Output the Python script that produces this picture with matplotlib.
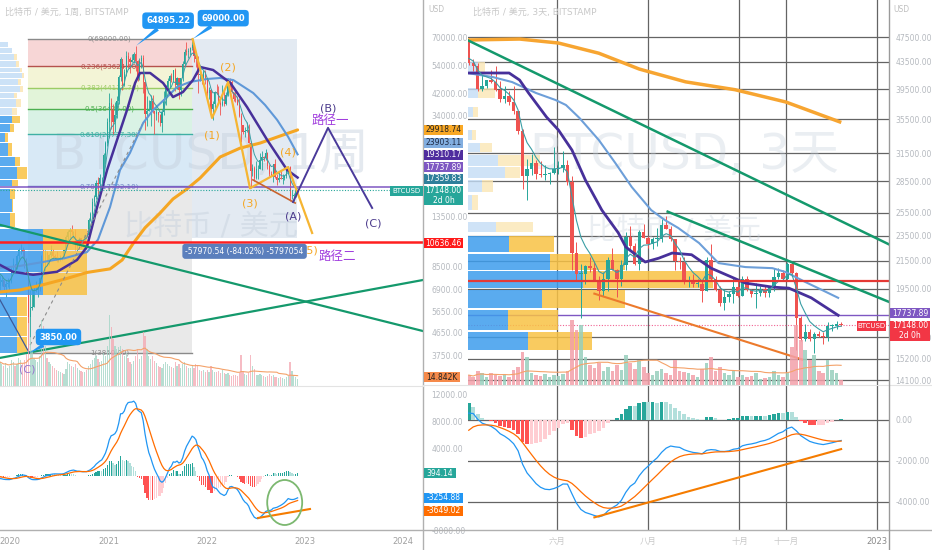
import numpy as np
import pandas as pd
import matplotlib
matplotlib.use("Agg")
import matplotlib.pyplot as plt
import matplotlib.dates as mdates
from matplotlib.patches import Rectangle, Ellipse
from matplotlib.lines import Line2D
from matplotlib.ticker import NullLocator

plt.rcParams['font.family'] = ['DejaVu Sans', 'Noto Sans CJK SC']
plt.rcParams['axes.unicode_minus'] = False

# =========================== DATA ===========================
# ---- Left chart: BTCUSD weekly (BITSTAMP), first visible week 2019-11-25
lw_start = '2019-11-25'
lw_pre_close = [8000, 8900, 10800, 10800, 11500, 10200, 10600, 9500, 10900, 11300, 10300, 10100,
                10300, 10400, 10300, 10000, 8000, 7900, 8300, 8200, 9200, 8800, 8800, 8100, 7100]
lw_close = [7420, 7520, 7080, 7260, 7340, 7400,
            8180, 8700, 8350, 9350, 9900, 9920, 9700, 8540, 8040, 5380, 5830, 5880, 6780, 6900, 7130, 7700,
            8900, 8720, 9680, 8900, 9450, 9760, 9360, 9300, 9000, 9080, 9230, 9180, 9920, 11200, 11700, 11900,
            11660, 11700, 10300, 10320, 11050, 10770, 10680, 11390, 11360, 13100, 13800, 15480, 16080, 18400,
            18190, 19150, 19250, 23850, 26500, 32200,
            38200, 36000, 32300, 34300, 39200, 48700, 57500, 45200, 50900, 59000, 57500, 55800, 57000, 60000,
            56200, 49100, 56600, 58200, 46400, 34700, 35700, 35800, 39000, 35500, 34700, 35300, 34300, 31800,
            35400, 39900, 44400, 47100, 49100, 47200, 51800, 45200, 48300, 43200, 48200, 54900, 61500, 61300,
            61300, 63300, 65500, 59000, 57200, 49400, 50100, 46700, 50800, 47300,
            41900, 43100, 36300, 37900, 42400, 42100, 38400, 37700, 38800, 37800, 41300, 46800, 46400, 42200,
            39700, 39500, 37600, 34100, 31300, 29400, 29500, 29900, 26600, 20600, 21000, 19300, 20800, 20800,
            22600, 23300, 23200, 24300, 21500, 20000, 19800, 21800, 19400, 18800, 19300, 19100, 19200, 19600,
            20600, 21300, 16300, 16300, 16500, 17100, 17148]
lw_high = [7850, 7750, 7550, 7520, 7700, 7500,
           8460, 9190, 8700, 9570, 10150, 10500, 10200, 9970, 9190, 8170, 6900, 6980, 7200, 7470, 7300, 7770,
           9470, 10000, 9930, 9850, 9600, 10400, 9980, 9570, 9800, 9300, 9450, 9300, 10000, 11400, 11900, 12100,
           12480, 11800, 12050, 10600, 11150, 11100, 10950, 11500, 11720, 13350, 14100, 15960, 16500, 18800,
           19400, 19900, 19400, 24300, 27000, 33300,
           41950, 40100, 37850, 38500, 40950, 49700, 58300, 57500, 52600, 61800, 61000, 58500, 60000, 61300,
           64895, 57000, 57900, 59500, 59500, 46100, 40900, 39500, 41300, 41300, 35500, 36600, 35100, 34600,
           35400, 42600, 45300, 48200, 49400, 50500, 51900, 52900, 48800, 48100, 48400, 56500, 62900, 67000,
           63700, 64300, 69000, 66300, 59400, 59100, 51900, 49500, 51900, 52100,
           47500, 44400, 43500, 38900, 42600, 45800, 44700, 39800, 45400, 42600, 42300, 48000, 48200, 47200,
           41600, 42900, 40800, 40000, 35000, 31300, 30600, 32300, 31700, 26900, 21900, 21500, 22400, 21600,
           24200, 24600, 23600, 25200, 24400, 21800, 20600, 21800, 22800, 19900, 20300, 20500, 19900, 19700,
           21000, 21500, 21500, 17200, 16800, 17400, 17400]
lw_low = [6850, 7100, 6800, 6430, 7050, 6850,
          7330, 8050, 8250, 8350, 9150, 9600, 9300, 8400, 8000, 3850, 4450, 5700, 5850, 6750, 6470, 6820,
          7650, 8600, 8200, 8650, 8640, 9300, 9230, 9150, 8900, 8900, 9000, 9050, 9160, 9900, 10700, 11100,
          11350, 11100, 9900, 9850, 10200, 10150, 10370, 10550, 11150, 11200, 12900, 13300, 14800, 15800,
          16300, 17600, 17550, 19000, 21800, 25900,
          27700, 30300, 28800, 29300, 33400, 37900, 47000, 43000, 45000, 49300, 53300, 50400, 55800, 55500,
          51500, 47000, 47200, 53000, 42100, 30000, 31000, 35600, 31000, 34800, 28800, 32700, 32100, 31100,
          29300, 34400, 37600, 43700, 43900, 46300, 46600, 42900, 43400, 39600, 40800, 47100, 53700, 59700,
          58000, 59500, 62300, 55600, 53500, 42000, 46800, 45500, 45500, 45700,
          40700, 39700, 34000, 32900, 36300, 41700, 38000, 34300, 37300, 37200, 37600, 40900, 44200, 42100,
          38900, 38600, 37700, 33700, 26700, 28700, 28000, 29300, 26600, 17600, 19600, 18700, 19000, 19000,
          20800, 20700, 22400, 22700, 20800, 19600, 19500, 18600, 19300, 18100, 18500, 19100, 18200, 18900,
          19200, 20000, 15600, 15800, 15500, 16100, 16850]
lw_volume_k = [36, 33, 30, 34, 27, 30,
               39, 36, 30, 33, 42, 39, 33, 39, 48, 95, 72, 54, 42, 39, 36, 45, 99, 90, 60, 42, 36, 33, 30, 27,
               24, 22, 21, 20, 18, 25, 36, 33, 30, 28, 33, 27, 24, 22, 21, 21, 24, 30, 33, 39, 42, 45, 40, 36,
               38, 50, 45, 60,
               106, 88, 70, 60, 55, 58, 60, 55, 45, 50, 42, 36, 33, 38, 45, 55, 40, 45, 81, 75, 55, 45, 40, 45,
               38, 35, 30, 28, 27, 33, 36, 33, 30, 28, 27, 36, 30, 33, 27, 33, 36, 30, 27, 27, 30, 27, 33, 30,
               24, 22, 24, 21,
               24, 21, 30, 24, 21, 21, 22, 20, 24, 20, 18, 20, 17, 15, 17, 16, 15, 20, 46, 22, 18, 17, 20, 47,
               30, 25, 17, 16, 18, 17, 15, 14, 15, 18, 15, 16, 14, 13, 12, 14, 12, 11, 13, 15, 36, 22, 16,
               13, 10]

# left moving averages
l_ma_orange_dates = ['2019-11-25', '2020-02-07', '2020-04-29', '2020-07-24', '2020-10-13', '2021-01-07',
                     '2021-02-21', '2021-04-02', '2021-05-17', '2021-07-12', '2021-08-29', '2021-10-20',
                     '2021-12-08', '2022-02-20', '2022-05-05', '2022-07-19', '2022-10-01', '2022-12-05']
l_ma_orange = [6745, 6870, 7190, 7600, 8070, 8340, 9050, 10500, 12170, 13940, 15860, 17390, 19240, 23320,
               25300, 26520, 28290, 29919]
l_ma_blue_dates = ['2019-11-25', '2020-02-07', '2020-04-29', '2020-07-24', '2020-10-13', '2020-11-23',
                   '2021-01-07', '2021-02-13', '2021-03-22', '2021-05-10', '2021-06-16', '2021-08-07',
                   '2021-09-13', '2021-10-31', '2022-01-03', '2022-02-20', '2022-04-10', '2022-06-23',
                   '2022-08-06', '2022-09-20', '2022-10-31', '2022-12-05']
l_ma_blue = [8410, 8570, 8870, 9210, 9730, 10900, 14730, 20700, 24210, 31890, 35930, 40470, 44390, 46490,
             47780, 48220, 47300, 42010, 37630, 32790, 28040, 23903]
l_ma_indigo_dates = ['2019-11-25', '2020-01-12', '2020-03-27', '2020-06-24', '2020-09-06', '2020-10-13',
                     '2020-11-20', '2020-12-27', '2021-02-02', '2021-03-11', '2021-04-10', '2021-04-28',
                     '2021-06-05', '2021-07-23', '2021-08-29', '2021-10-05', '2021-11-11', '2021-12-08',
                     '2022-01-25', '2022-03-30', '2022-05-31', '2022-08-14', '2022-10-27', '2022-12-05']
l_ma_indigo = [8650, 8120, 7900, 8120, 9050, 10200, 14730, 20700, 27280, 35930, 46060, 50490, 50490, 46060,
               40470, 42390, 47300, 53340, 51890, 46060, 36920, 27280, 20700, 19310]

# fibonacci retracement drawn on the left chart
fib_levels = [0, 0.236, 0.382, 0.5, 0.618, 0.786, 1]
fib_high, fib_low = 69000.0, 3850.0
fib_dates = ['2020-03-09', '2021-11-08']
range_dates = ['2021-11-08', '2022-12-03']
range_change = -57970.54
l_red_level = 10636.46
l_purple_level = 17737.89
last_price = 17148.00

# drawings on the left chart (anchor dates, prices)
l_green1_dates, l_green1 = ['2019-11-25', '2024-03-15'], [12500, 4710]
l_green2_dates, l_green2 = ['2019-11-25', '2024-03-15'], [3680, 7530]
l_wave_dates = ['2021-11-10', '2022-01-21', '2022-03-22', '2022-06-11', '2022-10-31', '2023-01-28']
l_wave = [69000, 33400, 46500, 17500, 21260, 11600]
l_wave_labels = ['(1)', '(2)', '(3)', '(4)', '(5)']
l_wave_label_dates = ['2022-01-21', '2022-03-22', '2022-06-11', '2022-10-31', '2023-01-20']
l_wave_label_prices = [28550, 53340, 15280, 24420, 9920]
l_wedge_dates, l_wedge = ['2022-06-22', '2022-11-26'], [18900, 15280]
l_abc_dates = ['2022-11-18', '2023-03-28', '2023-09-08']
l_abc = [15420, 30500, 14600]
l_abc_label_dates = ['2022-11-18', '2023-03-28', '2023-09-12']
l_abc_label_prices = [13440, 36260, 12600]
l_dash_dates, l_dash = ['2020-03-16', '2021-05-06'], [4140, 31400]
l_thin_dates, l_thin = ['2019-11-25', '2020-03-13'], [6270, 3850]
l_macd_trend_dates, l_macd_trend = ['2022-07-11', '2023-01-20'], [-6220, -4890]

# volume profile rows of the left chart: (price low, price high, blue share, total share, pale)
l_profile = [(64110, 67120, .019, .019, 1), (60660, 63530, .028, .028, 1), (56880, 60110, .033, .040, 1),
             (53340, 56370, .038, .045, 1), (50950, 52850, .047, .052, 1), (48220, 50490, .052, .057, 1),
             (45220, 47780, .043, .050, 1), (42390, 44800, .047, .055, 1), (40140, 42010, .033, .040, 1),
             (36920, 39750, .038, .050, 1), (34330, 36600, .028, .040, 1), (31890, 34000, .028, .047, 0),
             (29350, 31590, .024, .033, 0), (26780, 29080, .012, .020, 0), (23540, 26540, .019, .028, 0),
             (21470, 23320, .035, .047, 0), (19060, 21280, .040, .064, 0), (17860, 18870, .028, .043, 0),
             (15860, 17390, .024, .035, 0), (14070, 15910, .028, .030, 0), (12250, 13940, .024, .035, 0),
             (9920, 12040, .102, .206, 0), (8110, 9830, .102, .206, 0), (6570, 8020, .102, .206, 0),
             (5410, 6450, .040, .064, 0), (4510, 5350, .040, .064, 0), (3850, 4460, .040, .064, 0)]

# ---- Right chart: BTCUSD 3-day candles, first visible candle 2022-04-03
r_start = '2022-04-03'
r_pre_close = [49400, 50500, 47500, 46700, 47600, 46700, 48900, 50800, 47500, 46300, 46400, 43100, 41900,
               43900, 43100, 41800, 36300, 36700, 37200, 38200, 37000, 41600, 43900, 42400, 42500, 40500,
               38400, 37300, 39100, 44400, 39100, 38000, 39400, 37800, 41100, 42200, 42400, 44500, 47100, 45500]
r_open = [46600, 43300, 42800, 39500, 39900, 40800, 40500, 39400, 38100, 38600, 37700, 36500, 34000, 29000,
          29800, 30400, 29200, 29100, 29200, 29400, 29800, 29900, 30200, 28400, 22100, 20500, 20500, 21100,
          21000, 20100, 19300, 20200, 21600, 20800, 20200, 21200, 23400, 22700, 21300, 23800, 23300, 22800,
          23200, 23200, 24400, 24100, 23200, 21500, 21400, 20000, 20000, 19800, 19800, 19300, 21600, 20200,
          19400, 18500, 18900, 19100, 19600, 19000, 20200, 19400, 19100, 19200, 19500, 19200, 19600, 20300,
          20600, 20200, 21300, 20600, 17600, 16300, 16700, 16300, 16600, 16500, 16400, 17100, 17100, 17200]
r_high = [47400, 43900, 43400, 41500, 40800, 42200, 42900, 40700, 40000, 39200, 40000, 36600, 34300, 30800,
          31400, 30700, 30600, 30200, 29500, 32200, 30600, 31700, 30700, 29000, 23000, 21300, 21200, 21800,
          21500, 20400, 20700, 21800, 22500, 20900, 21600, 23800, 24300, 22900, 24000, 24500, 23500, 23400,
          24200, 24900, 25200, 24300, 23200, 21800, 21800, 20400, 20500, 20200, 20100, 21800, 22800, 20400,
          19700, 19500, 19300, 20300, 20100, 20400, 20400, 19500, 19900, 19700, 19700, 19700, 21000, 21000,
          20800, 21400, 21500, 20700, 17700, 17200, 16900, 16700, 16800, 16700, 17300, 17200, 17400, 17300]
r_low = [43000, 42100, 39200, 39300, 39600, 40300, 39200, 37700, 37600, 37400, 36200, 33700, 27700, 26700,
         29100, 28700, 28900, 28600, 28200, 29300, 29300, 29500, 28100, 20800, 20100, 17600, 19800, 20700,
         20100, 18700, 19000, 19300, 20900, 18900, 19700, 20800, 22400, 21200, 20800, 23300, 22500, 22400,
         22700, 23000, 24100, 23100, 20800, 20900, 19800, 19600, 19600, 19600, 18600, 19300, 20000, 19300,
         18300, 18100, 18600, 18500, 18900, 19000, 19300, 18900, 18200, 19000, 18900, 18900, 19300, 20200,
         20100, 20000, 20400, 15700, 16200, 16200, 16200, 15500, 16400, 16000, 16200, 16800, 16900, 17050]
r_close = [43300, 42800, 39500, 39900, 40800, 40500, 39400, 38100, 38600, 37700, 36500, 34000, 29000, 29800,
           30400, 29200, 29100, 29200, 29400, 29800, 29900, 30200, 28400, 22100, 20500, 20500, 21100, 21000,
           20100, 19300, 20200, 21600, 20800, 20200, 21200, 23400, 22700, 21300, 23800, 23300, 22800, 23200,
           23200, 24400, 24100, 23200, 21500, 21400, 20000, 20000, 19800, 19800, 19300, 21600, 20200, 19400,
           18500, 18900, 19100, 19600, 19000, 20200, 19400, 19100, 19200, 19500, 19200, 19600, 20300, 20600,
           20200, 21300, 20600, 17600, 16300, 16700, 16300, 16600, 16500, 16400, 17100, 17100, 17200, 17148]
r_volume_k = [3.3, 2.7, 4.7, 4.0, 2.7, 4.0, 3.3, 3.0, 3.7, 2.7, 5.0, 6.0, 11.0, 9.3, 4.0, 3.3, 3.0, 3.7,
              2.7, 3.3, 3.0, 3.7, 4.7, 21.7, 18.3, 20.0, 9.3, 6.7, 5.7, 7.3, 4.7, 6.0, 4.7, 6.7, 5.0, 10.0,
              7.3, 5.3, 8.3, 6.0, 4.0, 3.3, 4.7, 5.3, 4.0, 3.3, 8.3, 4.7, 4.3, 4.0, 3.3, 2.7, 5.3, 7.3, 9.3,
              4.7, 6.0, 4.0, 3.3, 4.7, 2.7, 3.3, 2.7, 3.0, 4.0, 2.0, 2.3, 2.7, 4.7, 3.3, 2.7, 4.0, 12.7, 20.0,
              15.0, 11.7, 8.3, 10.0, 4.7, 4.0, 8.3, 5.0, 4.0, 1.7]

r_ma_orange_dates = ['2022-04-02', '2022-05-07', '2022-06-02', '2022-06-29', '2022-07-26', '2022-08-26',
                     '2022-09-28', '2022-11-01', '2022-12-07']
r_ma_orange = [47000, 47160, 46500, 44850, 42410, 40530, 39420, 37740, 35180]
r_ma_blue_dates = ['2022-04-02', '2022-04-19', '2022-05-02', '2022-05-18', '2022-05-31', '2022-06-07',
                   '2022-06-16', '2022-06-29', '2022-07-10', '2022-07-21', '2022-08-03', '2022-08-12',
                   '2022-08-21', '2022-09-04', '2022-09-17', '2022-10-05', '2022-10-23', '2022-11-01',
                   '2022-11-14', '2022-11-25', '2022-12-06']
r_ma_blue = [41820, 41230, 40500, 38960, 38010, 37340, 35670, 32980, 30410, 27930, 25740, 24860, 24170,
             22910, 21340, 21040, 20960, 20670, 19960, 19410, 18870]
r_ma_indigo_dates = ['2022-04-02', '2022-04-30', '2022-05-07', '2022-05-13', '2022-05-25', '2022-06-02',
                     '2022-06-11', '2022-06-20', '2022-07-01', '2022-07-12', '2022-07-17', '2022-07-30',
                     '2022-08-08', '2022-08-17', '2022-08-30', '2022-09-12', '2022-10-05', '2022-10-23',
                     '2022-11-03', '2022-11-18', '2022-12-06']
r_ma_indigo = [41820, 41820, 40790, 38960, 35780, 34170, 31840, 28630, 25740, 23750, 22590, 21420, 21710,
               22110, 21980, 20960, 19880, 19600, 19530, 18870, 17740]
r_green1_dates, r_green1 = ['2022-04-02', '2023-01-09'], [47000, 22800]
r_green2_dates, r_green2 = ['2022-08-14', '2023-01-09'], [25600, 18600]
r_orange_dates, r_orange = ['2022-06-26', '2022-11-12'], [19150, 15170]
r_red_level = 20000
r_macd_trend_dates, r_macd_trend = ['2022-06-26', '2022-12-08'], [-4750, -1420]
r_profile = [(41970, 43480, .024, .040, 1), (38280, 39650, .024, .064, 1), (35790, 37070, .012, .024, 1),
             (32980, 34170, .010, .020, 1), (31620, 32640, .0285, .057, 1), (30100, 31280, .071, .171, 1),
             (28840, 29990, .088, .124, 1), (27440, 28630, .033, .059, 1), (25740, 27150, .010, .024, 1),
             (23820, 24680, .0665, .154, 1), (22190, 23480, .097, .204, 0), (20820, 22040, .195, .373, 0),
             (19530, 20750, .273, .582, 0), (18200, 19390, .176, .373, 0), (16840, 18070, .095, .214, 0),
             (15680, 16720, .1425, .295, 0)]

# axis ticks
l_price_ticks = [70000, 54000, 42000, 34000, 13500, 8500, 6900, 5650, 4650, 3750]
l_macd_ticks = [12000, 8000, 4000, -8000]
l_year_ticks = ['2020-01-01', '2021-01-01', '2022-01-01', '2023-01-01', '2024-01-01']
l_year_labels = ['2020', '2021', '2022', '2023', '2024']
r_price_ticks = [47500, 43500, 39500, 35500, 31500, 28500, 25500, 23500, 21500, 19500, 16400, 15200, 14100]
r_macd_ticks = [0, -2000, -4000]
r_month_ticks = ['2022-06-01', '2022-08-01', '2022-10-01', '2022-11-01', '2023-01-01']
r_month_labels = ['六月', '八月', '十月', '十一月', '2023']

# =========================== HELPERS ===========================
W, H = 932, 550
fig = plt.figure(figsize=(W / 100, H / 100), dpi=100)
fig.patch.set_facecolor('white')


def add_ax(x0, y0, x1, y1):
    ax = fig.add_axes([x0 / W, 1 - y1 / H, (x1 - x0) / W, (y1 - y0) / H])
    for s in ax.spines.values():
        s.set_visible(False)
    ax.set_facecolor('none')
    return ax


def D(seq):
    return mdates.date2num(pd.to_datetime(seq))


def candles(ax, x, o, h, l, c, width, z=2, lw=0.7):
    o, h, l, c = (np.asarray(a, dtype=float) for a in (o, h, l, c))
    h = np.maximum(h, np.maximum(o, c))
    l = np.minimum(l, np.minimum(o, c))
    col = np.where(c >= o, '#26a69a', '#ef5350')
    ax.vlines(x, l, h, colors=col, lw=lw, zorder=z)
    lo = np.minimum(o, c)
    hi = np.maximum(np.maximum(o, c), lo * 1.004)
    ax.bar(x, hi - lo, width=width, bottom=lo, color=col, zorder=z, linewidth=0)
    return c >= o


def macd(closes):
    s = pd.Series(closes, dtype=float)
    m = s.ewm(span=12, adjust=False).mean() - s.ewm(span=26, adjust=False).mean()
    sg = m.ewm(span=9, adjust=False).mean()
    return m.values, sg.values, (m - sg).values


def hist_colors(hv):
    out = []
    for i, v in enumerate(hv):
        p = hv[i - 1] if i > 0 else v
        if v >= 0:
            out.append('#26a69a' if v >= p else '#b2dfdb')
        else:
            out.append('#ff5252' if v < p else '#ffcdd2')
    return out


def fline(x0, y0, x1, y1, color, lw=1.0, z=20):
    fig.add_artist(Line2D([x0 / W, x1 / W], [1 - y0 / H, 1 - y1 / H], transform=fig.transFigure,
                          color=color, lw=lw, zorder=z))


def fbox(x0, x1, yc, h, fc, text, tc='white', fs=5.5, text2=None):
    fig.add_artist(Rectangle((x0 / W, 1 - (yc + h / 2) / H), (x1 - x0) / W, h / H,
                             transform=fig.transFigure, fc=fc, ec='none', zorder=30))
    if text2 is None:
        fig.text((x0 + x1) / 2 / W, 1 - yc / H, text, ha='center', va='center', color=tc, fontsize=fs, zorder=31)
    else:
        fig.text((x0 + x1) / 2 / W, 1 - (yc - h / 4) / H, text, ha='center', va='center', color=tc,
                 fontsize=fs, zorder=31)
        fig.text((x0 + x1) / 2 / W, 1 - (yc + h / 4) / H, text2, ha='center', va='center', color=tc,
                 fontsize=fs, zorder=31)


def profile(ax, rows, z, a_sat, a_pale):
    tr = ax.get_yaxis_transform()
    for lo, hi, b, t, pale in rows:
        cb = '#c4ddf6' if pale else '#3d9ded'
        cy = '#fbe6b4' if pale else '#f8c244'
        a = a_pale if pale else a_sat
        ax.add_patch(Rectangle((0, lo), b, hi - lo, transform=tr, fc=cb, ec='none', alpha=a, zorder=z))
        if t > b:
            ax.add_patch(Rectangle((b, lo), t - b, hi - lo, transform=tr, fc=cy, ec='none', alpha=a, zorder=z))


def hide_twin(axt, top):
    for s in axt.spines.values():
        s.set_visible(False)
    axt.set_ylim(0, top)
    axt.set_yticks([])
    axt.tick_params(right=False, labelright=False, left=False, labelleft=False)


# =========================== LEFT CHART ===========================
axLP = add_ax(0, 0, 423, 386)
axLP.set_yscale('log')
lx0, lx1 = D(['2019-11-25'])[0], D(['2024-03-15'])[0]
axLP.set_xlim(lx0, lx1)
axLP.set_ylim(2842, 98750)
axLV = axLP.twinx()
hide_twin(axLV, 579)

fx = D(fib_dates)
fp = [fib_high - r * (fib_high - fib_low) for r in fib_levels]
fib_fill = ['#f7d6d6', '#f3f4d6', '#e2f4d9', '#d9f2e5', '#d8e9f6', '#e9e9e9']
fib_line = ['#8a8a8a', '#b5524d', '#9ccc65', '#4caf50', '#3fb0a4', '#6f86c6', '#8a8a8a']
for i in range(len(fib_levels) - 1):
    axLP.fill_between(fx, fp[i + 1], fp[i], color=fib_fill[i], lw=0, zorder=0.5)
for r, p, c in zip(fib_levels, fp, fib_line):
    axLP.plot(fx, [p, p], color=c, lw=1.0, zorder=1)
    axLP.text(fx.mean() - 2, p, f"{r:g}({p:.2f})", ha='center', va='center', fontsize=5, color=c, zorder=1.2)
rx = D(range_dates)
range_low = fib_high + range_change
axLP.fill_between(rx, range_low, fib_high, color='#e3eaf2', lw=0, zorder=0.5)

axLP.text(0.497, 0.598, 'BTCUSD, 1周', transform=axLP.transAxes, ha='center', va='center', fontsize=36,
          color='#c5d0dc', alpha=0.45, zorder=0.8)
axLP.text(0.50, 0.41, '比特币 / 美元', transform=axLP.transAxes, ha='center', va='center', fontsize=21,
          color='#c5d0dc', alpha=0.45, zorder=0.8)

n_w = min(len(lw_close), len(lw_high), len(lw_low), len(lw_volume_k))
wx = D(pd.date_range(lw_start, periods=n_w, freq='7D'))
l_open = ([lw_pre_close[-1]] + lw_close[:-1])[:n_w]
l_up = candles(axLP, wx, l_open, lw_high[:n_w], lw_low[:n_w], lw_close[:n_w], width=4.2, lw=0.6)
profile(axLP, l_profile, 2.5, 0.85, 0.85)

axLP.plot(D(l_ma_orange_dates), l_ma_orange, color='#f5a623', lw=2.2, zorder=3, solid_capstyle='round')
axLP.plot(D(l_ma_blue_dates), l_ma_blue, color='#5f98d8', lw=1.5, zorder=3)
axLP.plot(D(l_ma_indigo_dates), l_ma_indigo, color='#47309a', lw=1.8, zorder=3)
l_all_close = pd.Series(lw_pre_close + lw_close[:n_w], dtype=float)
l_ema_short = l_all_close.ewm(span=6, adjust=False).mean().values[len(lw_pre_close):]
axLP.plot(wx, l_ema_short, color='#3a9ea5', lw=0.7, zorder=3)

axLP.axhline(l_red_level, color='#ff1f1f', lw=1.8, zorder=4)
axLP.axhline(l_purple_level, color='#7e57c2', lw=1.1, zorder=4)
axLP.axhline(last_price, color='#26a69a', lw=0.8, ls=(0, (1, 1.5)), zorder=4)
axLP.plot(D(l_green1_dates), l_green1, color='#14996c', lw=1.6, zorder=4)
axLP.plot(D(l_green2_dates), l_green2, color='#14996c', lw=1.6, zorder=4)
axLP.plot(D(l_thin_dates), l_thin, color='#3d5a99', lw=0.9, zorder=4)
axLP.plot(D(l_dash_dates), l_dash, color='#8c8c8c', lw=0.8, ls=(0, (3, 3)), zorder=4)
axLP.plot(D(l_wave_dates), l_wave, color='#f6b532', lw=1.6, zorder=4)
axLP.plot(D(l_wedge_dates), l_wedge, color='#c8642e', lw=1.2, zorder=4)
axLP.plot(D(l_abc_dates), l_abc, color='#4a3a9a', lw=1.4, zorder=4)

vcol = np.where(l_up, '#9fd4c4', '#f4a6b0')
axLV.bar(wx, lw_volume_k[:n_w], width=4.5, color=vcol, alpha=0.75, linewidth=0, zorder=1)
axLV.plot(wx, pd.Series(lw_volume_k[:n_w], dtype=float).rolling(20, min_periods=1).mean().values,
          color='#f4a26a', lw=0.8, zorder=2)

T = axLP.transData
for s, dt, pr in zip(l_wave_labels, l_wave_label_dates, l_wave_label_prices):
    axLV.text(D([dt])[0], pr, s, transform=T, ha='center', va='center', fontsize=8, color='#f5a623', zorder=6)
for s, dt, pr in zip(['(A)', '(B)', '(C)'], l_abc_label_dates, l_abc_label_prices):
    axLV.text(D([dt])[0], pr, s, transform=T, ha='center', va='center', fontsize=8, color='#4b3a8c', zorder=6)
axLV.text(D(['2023-04-05'])[0], 32480, '路径一', transform=T, ha='center', va='center', fontsize=9,
          color='#a13ede', zorder=6)
axLV.text(D(['2023-05-01'])[0], 9310, '路径二', transform=T, ha='center', va='center', fontsize=9,
          color='#a13ede', zorder=6)
axLV.text(D(['2020-03-04'])[0], 3320, '(C)', transform=T, ha='center', va='center', fontsize=8,
          color='#9575cd', zorder=6)
axLV.annotate(f"{range_change:.2f} ({range_change / fib_high * 100:.2f}%) {range_change * 100:.0f}",
              xy=(rx.mean(), range_low), xycoords=T, xytext=(0, -6), textcoords='offset points',
              ha='center', va='top', fontsize=5.5, color='white', zorder=7,
              bbox=dict(boxstyle='round,pad=0.4', fc='#5b7fbd', ec='none'))
callouts = [('64895.22', '2021-04-14', 64895, (23, 18)), ('69000.00', '2021-11-10', 69000, (22, 15)),
            ('3850.00', '2020-03-13', 3850, (21, 11.5))]
for s, dt, pr, off in callouts:
    axLV.annotate(s, xy=(D([dt])[0], pr), xycoords=T, xytext=off, textcoords='offset points',
                  ha='center', va='center', fontsize=6, fontweight='bold', color='white', zorder=8,
                  bbox=dict(boxstyle='round,pad=0.45', fc='#2196f3', ec='none'),
                  arrowprops=dict(arrowstyle='wedge,tail_width=0.5,shrink_factor=0.5', fc='#2196f3',
                                  ec='none', shrinkA=0, shrinkB=0))

axLP.yaxis.tick_right()
axLP.set_yticks(l_price_ticks)
axLP.set_yticklabels([f'{t:.2f}' for t in l_price_ticks])
axLP.yaxis.set_minor_locator(NullLocator())
axLP.tick_params(axis='y', length=0, pad=6, labelsize=5.5, labelcolor='#b5b9bf')
axLP.tick_params(axis='x', bottom=False, labelbottom=False)

axLM = add_ax(0, 386, 423, 530)
axLM.set_xlim(lx0, lx1)
axLM.set_ylim(-8000, 13333)
lm, ls_, lh = macd(lw_pre_close + lw_close[:n_w])
n0 = len(lw_pre_close)
lm, ls_, lh = lm[n0:], ls_[n0:], lh[n0:]
axLM.bar(wx, lh, width=4.5, color=hist_colors(lh), linewidth=0, zorder=1)
axLM.plot(wx, lm, color='#2196f3', lw=0.9, zorder=2)
axLM.plot(wx, ls_, color='#ff6d00', lw=0.9, zorder=2)
axLM.plot(D(l_macd_trend_dates), l_macd_trend, color='#f57c00', lw=1.5, zorder=3)
axLM.add_patch(Ellipse((D(['2022-10-18'])[0], -3926), width=130, height=6667, fill=False,
                       ec='#7cb870', lw=1.3, zorder=3))
axLM.yaxis.tick_right()
axLM.set_yticks(l_macd_ticks)
axLM.set_yticklabels([f'{t:.2f}' for t in l_macd_ticks])
axLM.tick_params(axis='y', length=0, pad=6, labelsize=5.5, labelcolor='#b5b9bf')
axLM.set_xticks(D(l_year_ticks))
axLM.set_xticklabels(l_year_labels)
axLM.tick_params(axis='x', length=0, pad=5, labelsize=6, labelcolor='#a0a0a0')

# =========================== RIGHT CHART ===========================
axRP = add_ax(468, 0, 889, 385)
axRP.set_yscale('log')
rx0, rx1 = D(['2022-04-02 12:00'])[0], D(['2023-01-09'])[0]
axRP.set_xlim(rx0, rx1)
axRP.set_ylim(13860, 54150)
axRV = axRP.twinx()
hide_twin(axRV, 128.3)
grid_c = '#646464'
for t in r_price_ticks:
    axRP.axhline(t, color=grid_c, lw=0.9, zorder=0.6)
for d in D(r_month_ticks):
    axRP.axvline(d, color=grid_c, lw=0.9, zorder=0.6)
axRP.text(0.515, 0.597, 'BTCUSD, 3天', transform=axRP.transAxes, ha='center', va='center', fontsize=35,
          color='#c5d0dc', alpha=0.35, zorder=0.7)
axRP.text(0.49, 0.40, '比特币 / 美元', transform=axRP.transAxes, ha='center', va='center', fontsize=21,
          color='#c5d0dc', alpha=0.35, zorder=0.7)
profile(axRP, r_profile, 1.5, 0.85, 0.8)
axRP.axhline(l_purple_level, color='#7e57c2', lw=1.0, zorder=1.2)
axRP.axhline(last_price, color='#f06292', lw=0.8, ls=(0, (1, 1.5)), zorder=1.2)
n_r = min(len(r_open), len(r_high), len(r_low), len(r_close), len(r_volume_k))
rxd = D(pd.date_range(r_start, periods=n_r, freq='3D'))
r_up = candles(axRP, rxd, r_open[:n_r], r_high[:n_r], r_low[:n_r], r_close[:n_r], width=2.3, lw=0.7)
axRP.plot(D(r_ma_orange_dates), r_ma_orange, color='#f7a531', lw=2.5, zorder=3)
axRP.plot(D(r_ma_blue_dates), r_ma_blue, color='#6d9fd9', lw=1.5, zorder=3)
axRP.plot(D(r_ma_indigo_dates), r_ma_indigo, color='#47309a', lw=2.0, zorder=3)
r_all_close = pd.Series(r_pre_close + r_close[:n_r], dtype=float)
r_ema_short = r_all_close.ewm(span=5, adjust=False).mean().values[len(r_pre_close):]
axRP.plot(rxd, r_ema_short, color='#3a9ea5', lw=0.8, zorder=3)
axRP.axhline(r_red_level, color='#e53935', lw=1.6, zorder=4)
axRP.plot(D(r_green1_dates), r_green1, color='#14996c', lw=1.8, zorder=4)
axRP.plot(D(r_green2_dates), r_green2, color='#14996c', lw=1.8, zorder=4)
axRP.plot(D(r_orange_dates), r_orange, color='#ec7a2c', lw=1.5, zorder=4)
axRP.yaxis.tick_right()
axRP.set_yticks(r_price_ticks)
axRP.set_yticklabels([f'{t:.2f}' for t in r_price_ticks])
axRP.yaxis.set_minor_locator(NullLocator())
axRP.tick_params(axis='y', length=0, pad=4.5, labelsize=5.5, labelcolor='#b5b9bf')
axRP.tick_params(axis='x', bottom=False, labelbottom=False)

rvcol = np.where(r_up, '#98cfbd', '#f3a0a9')
axRV.bar(rxd, r_volume_k[:n_r], width=2.4, color=rvcol, alpha=0.85, linewidth=0, zorder=1)
axRV.plot(rxd, pd.Series(r_volume_k[:n_r], dtype=float).rolling(20, min_periods=1).mean().values,
          color='#f4a26a', lw=0.8, zorder=2)

axRM = add_ax(468, 385, 889, 530)
axRM.set_xlim(rx0, rx1)
axRM.set_ylim(-5366, 1707)
for t in r_macd_ticks:
    axRM.axhline(t, color=grid_c, lw=0.9, zorder=0.6)
for d in D(r_month_ticks):
    axRM.axvline(d, color=grid_c, lw=0.9, zorder=0.6)
rm, rs, rh = macd(r_pre_close + r_close[:n_r])
m0 = len(r_pre_close)
rm, rs, rh = rm[m0:], rs[m0:], rh[m0:]
axRM.bar(rxd, rh, width=2.4, color=hist_colors(rh), linewidth=0, zorder=1)
axRM.plot(rxd, rm, color='#2196f3', lw=0.9, zorder=2)
axRM.plot(rxd, rs, color='#ff6d00', lw=0.9, zorder=2)
axRM.plot(D(r_macd_trend_dates), r_macd_trend, color='#f57c00', lw=1.5, zorder=3)
axRM.yaxis.tick_right()
axRM.set_yticks(r_macd_ticks)
axRM.set_yticklabels([f'{t:.2f}' for t in r_macd_ticks])
axRM.tick_params(axis='y', length=0, pad=4.5, labelsize=5.5, labelcolor='#b5b9bf')
axRM.set_xticks(D(r_month_ticks))
axRM.set_xticklabels(r_month_labels)
axRM.tick_params(axis='x', length=0, pad=5, labelsize=6, labelcolor='#c8c8c8')
axRM.get_xticklabels()[-1].set_color('#8a8a8a')

# =========================== FRAME / LABELS ===========================
fline(423, 0, 423, 550, '#b0b0b0', 1.0)
fline(0, 530, 932, 530, '#b0b0b0', 1.0)
fline(0, 386, 423, 386, '#e3e3e3', 0.8)
fline(423, 385, 932, 385, '#e3e3e3', 0.8)
fline(889, 0, 889, 550, '#9a9a9a', 1.0)

fig.text(5 / W, 1 - 12 / H, '比特币 / 美元, 1周, BITSTAMP', fontsize=6.5, color='#c8c8c8', va='center')
fig.text(473 / W, 1 - 12 / H, '比特币 / 美元, 3天, BITSTAMP', fontsize=6.5, color='#c8c8c8', va='center')
fig.text(428 / W, 1 - 9 / H, 'USD', fontsize=5.5, color='#c0c0c0', va='center')
fig.text(893 / W, 1 - 9 / H, 'USD', fontsize=5.5, color='#c0c0c0', va='center')

fbox(424, 463, 130, 10, '#f9a825', '29918.74', '#222222')
fbox(424, 463, 142.5, 10, '#82aee0', '23903.11', '#1f2a44')
fbox(424, 463, 155, 10, '#4f2d9e', '19310.17')
fbox(424, 463, 167, 10, '#7e57c2', '17737.89')
fbox(424, 463, 178.5, 10, '#2f7f9b', '17359.83')
fbox(424, 463, 195.5, 19, '#26a69a', '17148.00', text2='2d 0h')
fbox(390, 423, 191, 10, '#26a69a', 'BTCUSD', fs=5)
fbox(424, 463, 243, 10, '#ff1a1a', '10636.46')
fbox(424, 460, 377, 10, '#f68a4a', '14.842K', '#222222')
fbox(424, 456, 473, 10, '#26a69a', '394.14')
fbox(424, 463, 498, 10, '#2196f3', '-3254.88')
fbox(424, 463, 510.5, 10, '#ff6d00', '-3649.02')
fbox(890, 930, 313, 10, '#7e57c2', '17737.89')
fbox(890, 930, 330.5, 20, '#f23645', '17148.00', text2='2d 0h')
fbox(857, 886, 325.5, 10, '#f23645', 'BTCUSD', fs=5)

fig.savefig('out.png', dpi=100, facecolor='white')
